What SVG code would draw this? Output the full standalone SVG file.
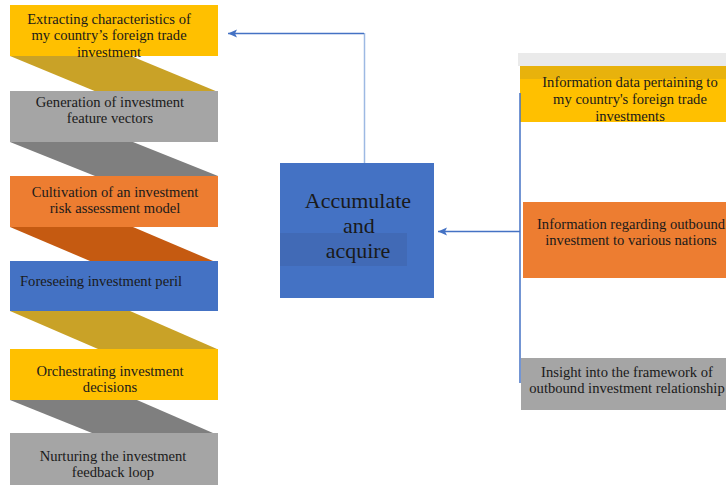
<svg xmlns="http://www.w3.org/2000/svg" width="726" height="485" viewBox="0 0 726 485" font-family="'Liberation Serif', 'DejaVu Serif', serif">
<style>
text{font-family:'Liberation Serif','DejaVu Serif',serif;font-size:14.6px;fill:#1a1a1a}
.c{text-anchor:middle}
.big{font-size:22px}
.yel{fill:#FFC000}.gry{fill:#A5A5A5}.org{fill:#ED7D31}.blu{fill:#4472C4}
.b-gold{fill:#C9A227}.b-gry{fill:#7F7F7F}.b-org{fill:#C55A11}
.ln{stroke:#4472C4;stroke-width:1.3;fill:none}
</style>
<defs>
<marker id="ah" markerWidth="10" markerHeight="10" refX="9" refY="5" orient="auto" markerUnits="userSpaceOnUse">
<path d="M0,1 L9,5 L0,9 L2,5 Z" fill="#4472C4"/>
</marker>
</defs>
<rect width="726" height="485" fill="#fff"/>
<g id="bands">
<polygon class="b-gold" points="10,56 131,56 218,92 97,92"/>
<polygon class="b-gry" points="10,142 133,142 218,176 95,176"/>
<polygon class="b-org" points="10,227 133,227 213,261 90,261"/>
<polygon class="b-gold" points="10,311 130,311 217,349 98,349"/>
<polygon class="b-gry" points="10,400 137,400 213,433 92,433"/>
</g>
<g id="n1">
<rect class="yel" x="10" y="5" width="208" height="51"/>
<text class="c" x="109" y="24">Extracting characteristics of</text>
<text class="c" x="109" y="40">my country’s foreign trade</text>
<text class="c" x="109" y="57">investment</text>
</g>
<g id="n2">
<rect class="gry" x="10" y="91" width="208" height="51"/>
<text class="c" x="110" y="107">Generation of investment</text>
<text class="c" x="110" y="123">feature vectors</text>
</g>
<g id="n3">
<rect class="org" x="10" y="176" width="208" height="51"/>
<text class="c" x="115" y="197">Cultivation of an investment</text>
<text class="c" x="115" y="213">risk assessment model</text>
</g>
<g id="n4">
<rect class="blu" x="10" y="261" width="208" height="50"/>
<text x="20" y="286">Foreseeing investment peril</text>
</g>
<g id="n5">
<rect class="yel" x="10" y="349" width="208" height="51"/>
<text class="c" x="110" y="376">Orchestrating investment</text>
<text class="c" x="110" y="392">decisions</text>
</g>
<g id="n6">
<rect class="gry" x="10" y="433" width="208" height="52"/>
<text class="c" x="113" y="461">Nurturing the investment</text>
<text class="c" x="113" y="477">feedback loop</text>
</g>
<g id="center">
<rect class="blu" x="280" y="163" width="154" height="135"/>
<rect x="280" y="233" width="127" height="33" fill="#3F65AE" opacity="0.6"/>
<text class="c big" x="358" y="208">Accumulate</text>
<text class="c big" x="359" y="233">and</text>
<text class="c big" x="358" y="258">acquire</text>
</g>
<g id="r1">
<rect x="518" y="53" width="208" height="13" fill="#EAEAEA"/>
<rect class="yel" x="520" y="66" width="206" height="56"/>
<rect x="520" y="66" width="206" height="13" fill="#E8B20C"/>
<text class="c" x="630" y="87">Information data pertaining to</text>
<text class="c" x="630" y="104">my country's foreign trade</text>
<text class="c" x="630" y="121">investments</text>
</g>
<g id="r2">
<rect class="org" x="523" y="202" width="203" height="76"/>
<text class="c" x="631" y="229">Information regarding outbound</text>
<text class="c" x="631" y="245">investment to various nations</text>
</g>
<g id="r3">
<rect class="gry" x="521" y="358" width="205" height="52"/>
<text class="c" x="627" y="377">Insight into the framework of</text>
<text class="c" x="627" y="393">outbound investment relationship</text>
</g>
<g id="connectors">
<line x1="364.5" y1="163" x2="364.5" y2="33" stroke="#9DB9E3" stroke-width="1.5"/>
<line class="ln" x1="364" y1="33.5" x2="228" y2="33.5" marker-end="url(#ah)"/>
<line x1="520" y1="93" x2="520" y2="383" stroke="#4472C4" stroke-width="1.5"/>
<line class="ln" x1="520" y1="231.5" x2="438" y2="231.5" marker-end="url(#ah)"/>
</g>
</svg>
